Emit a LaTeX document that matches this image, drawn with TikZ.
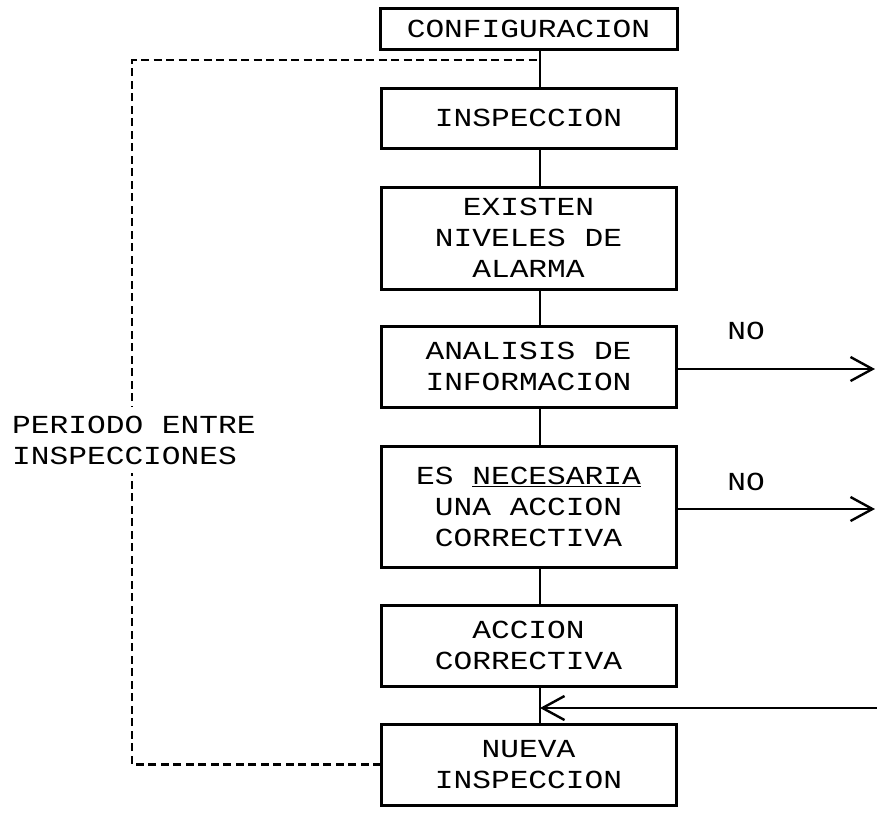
\documentclass[tikz,border=0pt]{standalone}
\usepackage{fontspec}
\setmonofont[FakeStretch=1.2]{Liberation Mono}
\usetikzlibrary{arrows.meta,positioning}

\begin{document}
\begin{tikzpicture}[x=1pt, y=-1pt, node distance=39pt,
    every node/.style={font=\ttfamily\fontsize{26}{31}\selectfont},
    box/.style={draw, line width=3pt, minimum width=295pt, align=center, inner sep=0pt, outer sep=0pt},
    link/.style={line width=2.4pt},
    flow/.style={line width=2.4pt, -{Straight Barb[length=22pt, width=24pt, line width=2.4pt]}},
    loopline/.style={line width=2.8pt, dash pattern=on 8pt off 4.5pt}]
    \useasboundingbox (0,0) rectangle (877,812);
    \node[box, minimum width=297pt, minimum height=41pt] (conf) at (528.5,28.5) {CONFIGURACION};
    \node[box, minimum height=60pt, below=of conf] (insp) {INSPECCION};
    \node[box, minimum height=102pt, below=of insp] (exist) {EXISTEN\\NIVELES DE\\ALARMA};
    \node[box, minimum height=81pt, below=37pt of exist] (anal) {ANALISIS DE\\INFORMACION};
    \node[box, minimum height=121pt, below=of anal] (es) {ES \underline{NECESARIA}\\UNA ACCION\\CORRECTIVA};
    \node[box, minimum height=81pt, below=38pt of es] (acc) {ACCION\\CORRECTIVA};
    \node[box, minimum height=81pt, below=38pt of acc] (nueva) {NUEVA\\INSPECCION};
    % vertical spine, a bit right of the box centres
    \foreach \a/\b in {conf/insp, insp/exist, exist/anal, anal/es, es/acc, acc/nueva}
        \draw[link] ([xshift=11.5pt]\a.south) -- ([xshift=11.5pt]\b.north);
    % NO exits
    \coordinate (exitA) at (875,369);
    \coordinate (exitB) at (875,509);
    \draw[flow] (anal.east |- exitA) -- (exitA);
    \draw[flow] (es.east |- exitB) -- (exitB);
    \node (noA) at (746,331) {NO};
    \node (noB) at (746,482) {NO};
    % return into the spine
    \coordinate (backin) at (877,708);
    \coordinate (spine) at ([xshift=11.5pt]acc.south);
    \draw[flow] (backin) -- (spine |- backin);
    % period loop
    \coordinate (looptop) at ([xshift=11.5pt, yshift=-11pt]conf.south);
    \coordinate (loopx) at (132,0);
    \draw[loopline] (nueva.west) -| (loopx |- looptop) -- (looptop);
    \node[fill=white, align=left, anchor=west, inner xsep=2pt, inner ysep=9pt] (period) at (10,440) {PERIODO ENTRE\\INSPECCIONES};
\end{tikzpicture}
\end{document}
